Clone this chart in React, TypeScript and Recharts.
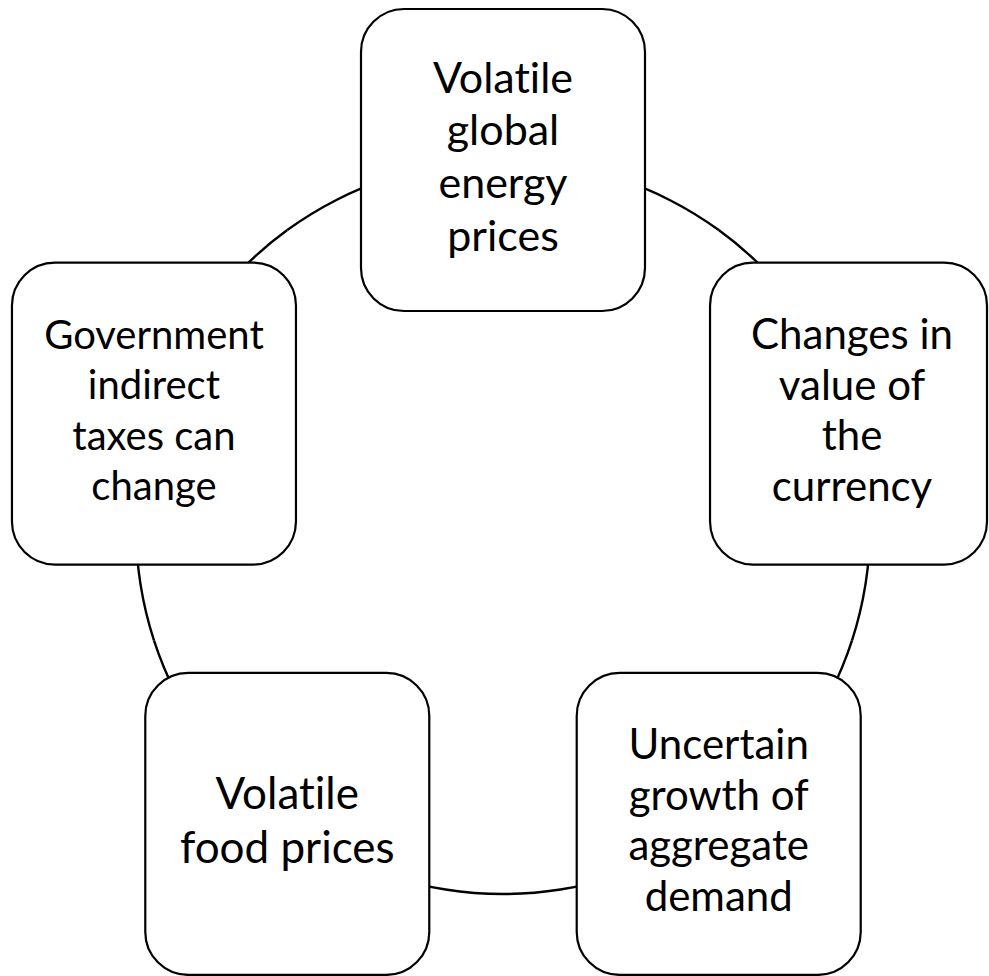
import React from 'react';
import { PieChart, Pie, Cell } from 'recharts';

// Diagram content
const categories = [
  'Volatile global energy prices',
  'Changes in value of the currency',
  'Uncertain growth of aggregate demand',
  'Volatile food prices',
  'Government indirect taxes can change',
];
const labelLines: string[][] = [
  ['Volatile', 'global', 'energy', 'prices'],
  ['Changes in', 'value of', 'the', 'currency'],
  ['Uncertain', 'growth of', 'aggregate', 'demand'],
  ['Volatile', 'food prices'],
  ['Government', 'indirect', 'taxes can', 'change'],
];
const weights = [1, 1, 1, 1, 1];

// styles
const fontSizes = [43, 42, 42, 44, 40];
const lineHeights = [52.7, 50.5, 50.5, 53.5, 50.5];
const W = 989;
const H = 976;
const BOX_W = 284;
const BOX_H = 302;
const RADIAN = Math.PI / 180;

const data = categories.map((name, i) => ({ name, value: weights[i] }));

const renderBox = (props: any) => {
  const { cx, cy, midAngle, innerRadius, outerRadius, index } = props;
  const r = (innerRadius + outerRadius) / 2;
  const bx = cx + r * Math.cos(-midAngle * RADIAN);
  const by = cy + r * Math.sin(-midAngle * RADIAN);
  let left = bx - BOX_W / 2;
  let right = bx + BOX_W / 2;
  if (right > W - 2) right = W - 2;
  if (left < 2) left = 2;
  const top = by - BOX_H / 2;
  const lines = labelLines[index] || [];
  const fs = fontSizes[index];
  const lh = lineHeights[index];
  const n = lines.length;
  return (
    <g key={`box-${index}`}>
      <rect
        x={left}
        y={top}
        width={right - left}
        height={BOX_H}
        rx={43}
        ry={43}
        fill="#ffffff"
        stroke="#000000"
        strokeWidth={2.2}
      />
      <text
        textAnchor="middle"
        fontFamily="Lato, 'Open Sans', sans-serif"
        fontSize={fs}
        fill="#000000"
        style={{ fontVariantLigatures: 'none' }}
      >
        {lines.map((ln, i) => (
          <tspan key={i} x={bx} y={by + (i - (n - 1) / 2) * lh + 0.27 * fs}>
            {ln}
          </tspan>
        ))}
      </text>
    </g>
  );
};

export default function App() {
  return (
    <div style={{ position: 'absolute', left: 0, top: 0, width: W, height: H, background: '#fff' }}>
      <PieChart width={W} height={H} margin={{ top: 0, right: 0, bottom: 0, left: 0 }}>
        <Pie
          data={data}
          dataKey="value"
          nameKey="name"
          cx={503}
          cy={527}
          innerRadius={365.8}
          outerRadius={368.2}
          startAngle={126}
          endAngle={-234}
          paddingAngle={0}
          stroke="none"
          fill="#000000"
          label={renderBox}
          labelLine={false}
          isAnimationActive={false}
        >
          {data.map((d) => (
            <Cell key={d.name} fill="#000000" stroke="none" />
          ))}
        </Pie>
      </PieChart>
    </div>
  );
}
